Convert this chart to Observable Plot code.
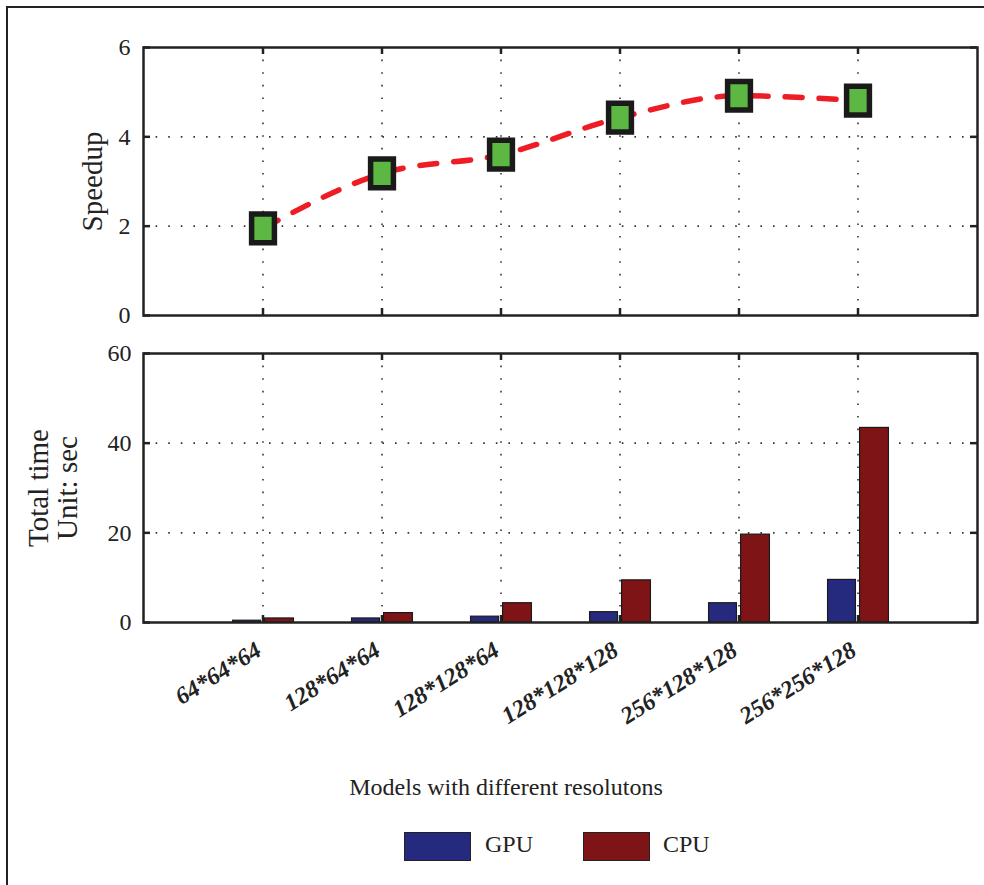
<!DOCTYPE html>
<html><head><meta charset="utf-8">
<script src="https://cdn.jsdelivr.net/npm/d3@7"></script>
<script src="https://cdn.jsdelivr.net/npm/@observablehq/plot@0.6"></script>
<style>
body{margin:0;background:#fff;}
#wrap{position:relative;width:984px;height:885px;overflow:hidden;font-family:"Liberation Serif",serif;color:#222;background:#fff;}
#border{position:absolute;left:6px;top:6px;width:1000px;height:900px;border-left:2px solid #222;border-top:2px solid #222;}
#top,#bottom{position:absolute;left:0;}
#top{top:0;}
#bottom{top:330px;}
#xtitle{position:absolute;left:0;width:1012px;top:774px;text-align:center;font-size:24px;color:#222;}
.sw{position:absolute;top:832px;width:65px;height:27px;border:1px solid #222;}
.lt{position:absolute;top:831px;font-size:24px;color:#222;}
svg{overflow:visible;}
</style>
</head><body>
<div id="wrap">
<div id="border"></div>
<div id="top"></div>
<div id="bottom"></div>
<div id="xtitle"></div>
<div id="legend"></div>
</div>
<script>
const categories = ["64*64*64","128*64*64","128*128*64","128*128*128","256*128*128","256*256*128"];
const speedup = [1.95, 3.18, 3.6, 4.43, 4.92, 4.81];
const gpuTime = [0.4, 0.9, 1.3, 2.3, 4.3, 9.5];
const cpuTime = [0.9, 2.1, 4.3, 9.4, 19.6, 43.4];
const speedupTicks = [0, 2, 4, 6];
const timeTicks = [0, 20, 40, 60];
const speedupLabel = "Speedup";
const timeLabelLines = ["Total time", "Unit: sec"];
const xAxisTitle = "Models with different resolutons";
const seriesNames = ["GPU", "CPU"];
const seriesColors = ["#262a7e", "#7e1416"];

const speedRows = categories.map((c, i) => ({model: c, speedup: speedup[i]}));
const timeRows = categories.map((c, i) => ({model: c, gpu: gpuTime[i], cpu: cpuTime[i]}));

const W = 984, ML = 143, MR = 7;
const plotW = W - ML - MR;
const font = "Liberation Serif, serif";
const gridStyle = {stroke: "#333", strokeOpacity: 1, strokeWidth: 1.6, strokeDasharray: "1.6,11"};
const xScale = {type: "band", domain: categories, paddingInner: 0, paddingOuter: 0.5, axis: null};

// rectangular marker symbol
const rectSymbol = {draw(ctx, size) { const r = Math.sqrt(size / Math.PI); const w = r * 1.9, h = w * 1.26; ctx.rect(-w / 2, -h / 2, w, h); }};

// Top: speedup
{
  const H = 330, MT = 47, MB = 15, plotH = H - MT - MB;
  const p = Plot.plot({
    width: W, height: H, marginLeft: ML, marginRight: MR, marginTop: MT, marginBottom: MB,
    style: {fontFamily: font, fontSize: "24px", color: "#222", background: "transparent", overflow: "visible"},
    x: xScale,
    y: {domain: [0, 6], axis: null},
    marks: [
      Plot.gridX(categories, {x: d => d, ...gridStyle}),
      Plot.gridY([2, 4], {y: d => d, ...gridStyle}),
      Plot.tickY(speedupTicks, {y: d => d, stroke: "#222", strokeWidth: 2.5, insetRight: plotW - 7}),
      Plot.tickY(speedupTicks, {y: d => d, stroke: "#222", strokeWidth: 2.5, insetLeft: plotW - 7}),
      Plot.tickX(categories, {x: d => d, stroke: "#222", strokeWidth: 2.5, insetBottom: plotH - 7}),
      Plot.tickX(categories, {x: d => d, stroke: "#222", strokeWidth: 2.5, insetTop: plotH - 7}),
      Plot.frame({stroke: "#222", strokeWidth: 2.5}),
      Plot.line(speedRows, {x: "model", y: "speedup", stroke: "#ee1c25", strokeWidth: 5.5, strokeDasharray: "17,17", curve: "monotone-x"}),
      Plot.dot(speedRows, {x: "model", y: "speedup", symbol: rectSymbol, r: 12, fill: "#5db843", stroke: "#1a1a1a", strokeWidth: 5.5}),
      Plot.axisY(speedupTicks, {tickSize: 0, tickPadding: 13, fontSize: 24, fill: "#222", label: null}),
      Plot.text([speedupLabel], {frameAnchor: "left", dx: -51, rotate: -90, textAnchor: "middle", fontSize: 29, fill: "#222"})
    ]
  });
  document.getElementById("top").appendChild(p);
}

// Bottom: total time bars
{
  const H = 400, MT = 23, MB = 108, plotH = H - MT - MB;
  const step = plotW / (categories.length + 1);
  const hb = step / 2;
  const p = Plot.plot({
    width: W, height: H, marginLeft: ML, marginRight: MR, marginTop: MT, marginBottom: MB,
    style: {fontFamily: font, fontSize: "24px", color: "#222", background: "transparent", overflow: "visible"},
    x: xScale,
    y: {domain: [0, 60], axis: null},
    marks: [
      Plot.gridX(categories, {x: d => d, ...gridStyle}),
      Plot.gridY([20, 40], {y: d => d, ...gridStyle}),
      Plot.tickY(timeTicks, {y: d => d, stroke: "#222", strokeWidth: 2.5, insetRight: plotW - 7}),
      Plot.tickY(timeTicks, {y: d => d, stroke: "#222", strokeWidth: 2.5, insetLeft: plotW - 7}),
      Plot.tickX(categories, {x: d => d, stroke: "#222", strokeWidth: 2.5, insetBottom: plotH - 7}),
      Plot.tickX(categories, {x: d => d, stroke: "#222", strokeWidth: 2.5, insetTop: plotH - 7}),
      Plot.barY(timeRows, {x: "model", y: "gpu", fill: seriesColors[0], stroke: "#1a1a1a", strokeWidth: 1.2, insetLeft: hb - 30, insetRight: hb + 2}),
      Plot.barY(timeRows, {x: "model", y: "cpu", fill: seriesColors[1], stroke: "#1a1a1a", strokeWidth: 1.2, insetLeft: hb + 2, insetRight: hb - 31}),
      Plot.frame({stroke: "#222", strokeWidth: 2.5}),
      Plot.axisY(timeTicks, {tickSize: 0, tickPadding: 12, fontSize: 24, fill: "#222", label: null}),
      Plot.text(categories, {x: d => d, frameAnchor: "bottom", dy: 32, rotate: -32, textAnchor: "end", fontSize: 24, fontStyle: "italic", fontWeight: "bold", fill: "#222"}),
      Plot.text([timeLabelLines[0]], {frameAnchor: "left", dx: -105, rotate: -90, textAnchor: "middle", fontSize: 29, fill: "#222"}),
      Plot.text([timeLabelLines[1]], {frameAnchor: "left", dx: -76, rotate: -90, textAnchor: "middle", fontSize: 29, fill: "#222"})
    ]
  });
  document.getElementById("bottom").appendChild(p);
}

document.getElementById("xtitle").textContent = xAxisTitle;
const legend = document.getElementById("legend");
const swX = [404, 583], txX = [485, 663];
seriesNames.forEach((n, i) => {
  const s = document.createElement("div");
  s.className = "sw"; s.style.left = swX[i] + "px"; s.style.background = seriesColors[i];
  legend.appendChild(s);
  const t = document.createElement("div");
  t.className = "lt"; t.style.left = txX[i] + "px"; t.textContent = n;
  legend.appendChild(t);
});
</script>
</body></html>
